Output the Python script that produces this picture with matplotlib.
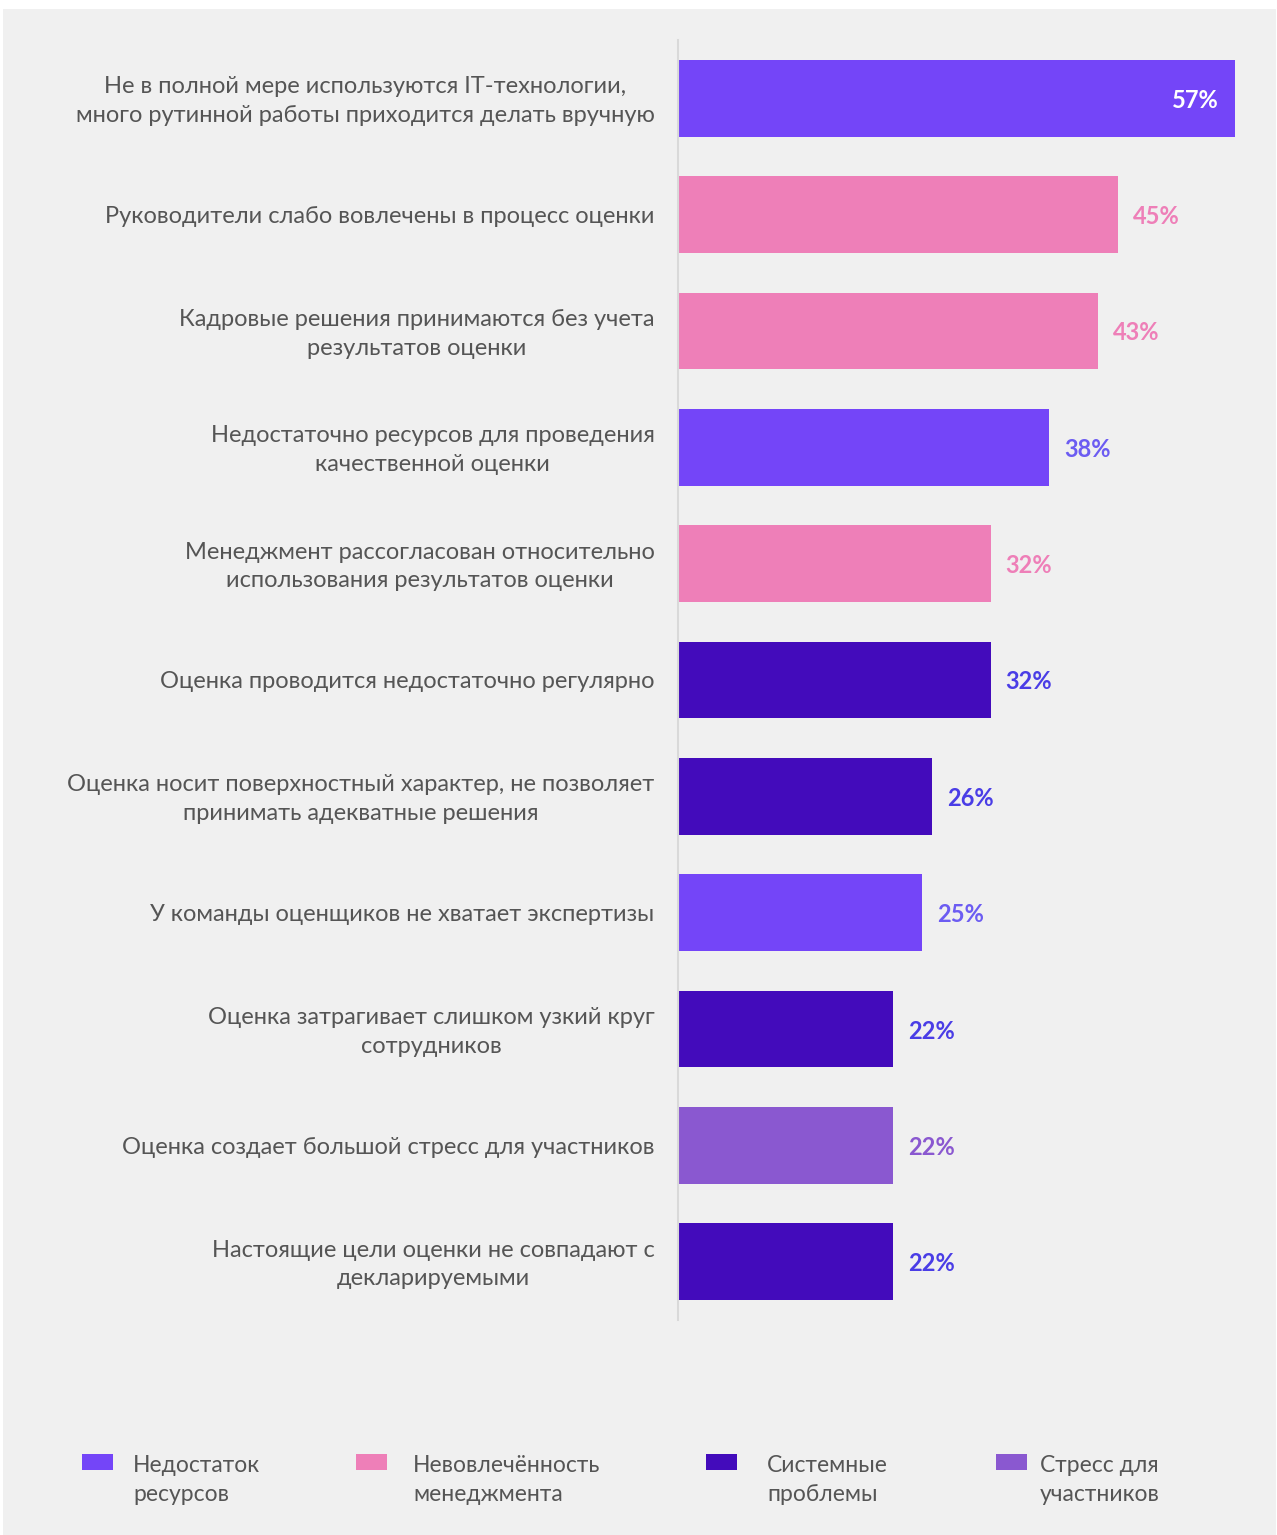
import matplotlib.pyplot as plt
from matplotlib.patches import Rectangle
from matplotlib.transforms import ScaledTranslation
import numpy as np

plt.rcParams['font.family'] = ['Lato', 'DejaVu Sans']

# ---------------------------------------------------------
# Данные
# ---------------------------------------------------------

categories = [
    'Не в полной мере используются IT-технологии,\nмного рутинной работы приходится делать вручную',
    'Руководители слабо вовлечены в процесс оценки',
    'Кадровые решения принимаются без учета\nрезультатов оценки',
    'Недостаточно ресурсов для проведения\nкачественной оценки',
    'Менеджмент рассогласован относительно\nиспользования результатов оценки',
    'Оценка проводится недостаточно регулярно',
    'Оценка носит поверхностный характер, не позволяет\nпринимать адекватные решения',
    'У команды оценщиков не хватает экспертизы',
    'Оценка затрагивает слишком узкий круг\nсотрудников',
    'Оценка создает большой стресс для участников',
    'Настоящие цели оценки не совпадают с\nдекларируемыми',
]

values = [57, 45, 43, 38, 32, 32, 26, 25, 22, 22, 22]

# группа причины для каждой строки
groups = ['res', 'mgmt', 'mgmt', 'res', 'mgmt', 'sys', 'sys', 'res', 'sys', 'stress', 'sys']

group_names = ['res', 'mgmt', 'sys', 'stress']
group_labels = ['Недостаток\nресурсов', 'Невовлечённость\nменеджмента',
                'Системные\nпроблемы', 'Стресс для\nучастников']

bar_colors = {'res': '#7445f8', 'mgmt': '#ee7fb8', 'sys': '#430bbb', 'stress': '#8a58d0'}
label_colors = {'res': '#6c5cf2', 'mgmt': '#ee7fb8', 'sys': '#4a3de6', 'stress': '#8a58d0'}

W, H = 1277, 1535
fig = plt.figure(figsize=(W / 100, H / 100), dpi=100, facecolor='white')

# светло-серая подложка
fig.patches.append(Rectangle((3 / W, 0), (1276 - 3) / W, (H - 9) / H,
                             transform=fig.transFigure, facecolor='#f0f0f0',
                             edgecolor='none', zorder=-5))

ax = fig.add_axes([678 / W, (H - 1320) / H, 586 / W, 1280 / H])
ax.set_facecolor('none')

y = np.arange(len(values))
ax.barh(y, values, height=0.66, color=[bar_colors[g] for g in groups], zorder=2)

ax.set_xlim(0, 60)
ax.set_ylim(len(values) - 0.5, -0.5)

for i, (v, g) in enumerate(zip(values, groups)):
    if i == 0:
        ax.annotate(f'{v}%', xy=(v, i), xytext=(-16, -2), textcoords='offset pixels',
                    ha='right', va='center', fontsize=17, fontweight='bold',
                    color='white')
    else:
        ax.annotate(f'{v}%', xy=(v, i), xytext=(15, -2), textcoords='offset pixels',
                    ha='left', va='center', fontsize=17, fontweight='bold',
                    color=label_colors[g])

ax.set_yticks(y)
ax.set_yticklabels(categories, fontsize=17, color='#555555',
                   multialignment='center', linespacing=1.45)
ax.tick_params(axis='y', length=0, pad=17)
ax.set_xticks([])

# двухстрочные подписи чуть приподнять
lift = ScaledTranslation(0, 3 / 100, fig.dpi_scale_trans)
for lbl in ax.get_yticklabels():
    if '\n' in lbl.get_text():
        lbl.set_transform(lbl.get_transform() + lift)

for s in ['top', 'right', 'bottom']:
    ax.spines[s].set_visible(False)
ax.spines['left'].set_color('#d9d9d9')
ax.spines['left'].set_linewidth(1.5)

# ---------------------------------------------------------
# Легенда
# ---------------------------------------------------------

legend_x = [82, 356, 706, 996]
legend_text_x = [133, 413, 767, 1040]
for x0, xt, g, lab in zip(legend_x, legend_text_x, group_names, group_labels):
    fig.patches.append(Rectangle((x0 / W, (H - 1470) / H), 31 / W, 16 / H,
                                 transform=fig.transFigure,
                                 facecolor=bar_colors[g], edgecolor='none'))
    fig.text(xt / W, (H - 1455) / H, lab, ha='left', va='top',
             fontsize=16.5, color='#555555', linespacing=1.45)

fig.savefig('out.png', dpi=100, facecolor='white')
